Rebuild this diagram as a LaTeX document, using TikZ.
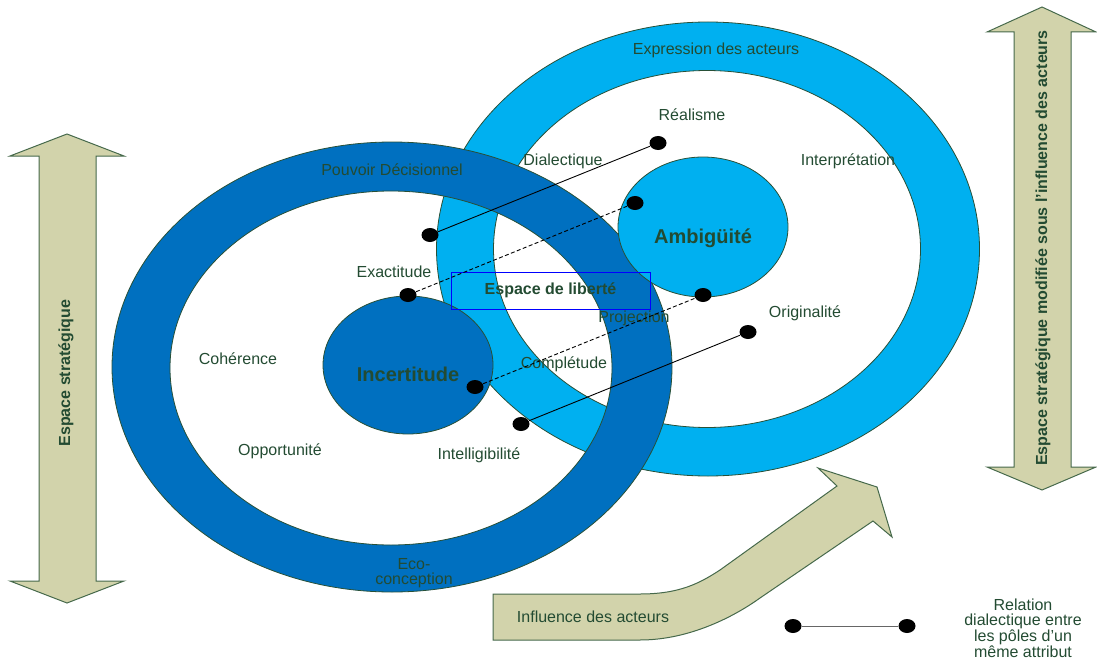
\documentclass[tikz,border=0pt]{standalone}
\usepackage{fontspec}
\setmainfont{Liberation Sans}
\usetikzlibrary{shapes.geometric}

\definecolor{darkring}{RGB}{0,112,192}
\definecolor{lightring}{RGB}{0,176,240}
\definecolor{edgegreen}{RGB}{40,80,55}
\definecolor{labelgreen}{RGB}{35,75,50}
\definecolor{khaki}{RGB}{210,211,171}
\definecolor{khakiedge}{RGB}{70,105,75}

\begin{document}
\begin{tikzpicture}[
  x=0.5pt, y=-0.5pt,
  every node/.style={font=\fontsize{8}{9.4}\selectfont, text=labelgreen, inner sep=0pt},
  ring/.style={
    fill=#1,
    draw=edgegreen,
    line width=0.4pt,
    even odd rule
  },
  pole/.style={
    ellipse,
    fill=#1,
    draw=edgegreen,
    line width=0.4pt,
    minimum width=85pt,
    minimum height=69pt,
    text height=16pt,
    text depth=0pt,
    font=\fontsize{10}{12}\selectfont\bfseries
  },
  dot/.style={ellipse, fill=black, minimum width=8.5pt, minimum height=7pt},
  rel/.style={draw=black, line width=0.45pt},
  reldash/.style={rel, dash pattern=on 2pt off 1.2pt},
  bigarrow/.style={fill=khaki, draw=khakiedge, line width=0.5pt},
  vlabel/.style={rotate=90, font=\fontsize{8}{9.6}\selectfont\bfseries},
]
\useasboundingbox (0,0) rectangle (1097,658);

% Strategic space arrows.
\draw[bigarrow] (67,134) -- (124,156) -- (96,156) -- (96,581) -- (124,581) -- (67,603)
  -- (10,581) -- (39,581) -- (39,156) -- (10,156) -- cycle;
\node[vlabel] (strat) at (66,373) {Espace stratégique};

\draw[bigarrow] (1042,7) -- (1096,32) -- (1071,32) -- (1071,467) -- (1096,467) -- (1042,490)
  -- (987,467) -- (1014,467) -- (1014,32) -- (987,32) -- cycle;
\node[vlabel] (stratmod) at (1043,248) {Espace stratégique modifiée sous l'influence des acteurs};

% Influence arrow.
\draw[bigarrow] (493,594) -- (640,594) .. controls (680,594) and (700,583) .. (720,570)
  -- (837,486) -- (818,468) -- (877,487) -- (892,537) -- (873,521) -- (760,598)
  .. controls (735,616) and (690,640) .. (640,640) -- (493,640) -- cycle;
\node (infl) at (593,617) {Influence des acteurs};

% Rings.
\path[ring=lightring] (708,249) ellipse [x radius=135.75pt, y radius=113.5pt]
  (707,249) ellipse [x radius=106.75pt, y radius=89.25pt];
\path[ring=darkring] (392,367) ellipse [x radius=140pt, y radius=112.5pt]
  (391,368) ellipse [x radius=110.5pt, y radius=88.5pt];

% Poles.
\node[pole=darkring] (incert) at (408,365) {Incertitude};
\node[pole=lightring, minimum height=70pt] (ambig) at (703,227) {Ambigüité};

% Attribute labels.
\node (expr) at (716,50) {Expression des acteurs};
\node (real) at (692,115) {Réalisme};
\node (dial) at (563,161) {Dialectique};
\node (interp) at (848,161) {Interprétation};
\node (pouv) at (392,170) {Pouvoir Décisionnel};
\node (exact) at (394,272) {Exactitude};
\node (proj) at (634,318) {Projection};
\node (orig) at (805,313) {Originalité};
\node (compl) at (564,364) {Complétude};
\node (coher) at (238,359) {Cohérence};
\node (oppor) at (280,451) {Opportunité};
\node (intel) at (479,455) {Intelligibilité};
\node[align=center, font=\fontsize{8}{7.5}\selectfont] (eco) at (414,573) {Eco-\\conception};

\node[draw=blue, line width=0.5pt, minimum width=99.5pt, minimum height=18.5pt,
  font=\fontsize{8}{9.6}\selectfont\bfseries] (liberte) at (550.5,290.5) {Espace de liberté};

% Dialectic relations.
\node[dot] (d1) at (430,235) {};
\node[dot] (d2) at (658,143) {};
\node[dot] (d3) at (408,295) {};
\node[dot] (d4) at (635,203) {};
\node[dot] (d5) at (475,387) {};
\node[dot] (d6) at (703,295) {};
\node[dot] (d7) at (521,424) {};
\node[dot] (d8) at (748,332) {};

\draw[rel] (d1) -- (d2);
\draw[reldash] (d3) -- (d4);
\draw[reldash] (d5) -- (d6);
\draw[rel] (d7) -- (d8);

% Legend.
\node[dot] (leg1) at (793,626) {};
\node[dot] (leg2) at (907,626) {};
\draw[draw=gray!80!black, line width=0.5pt] (leg1) -- (leg2);
\node[align=center, font=\fontsize{8}{7.85}\selectfont] (legtext) at (1023,628)
  {Relation\\dialectique entre\\les pôles d'un\\même attribut};

\end{tikzpicture}
\end{document}
